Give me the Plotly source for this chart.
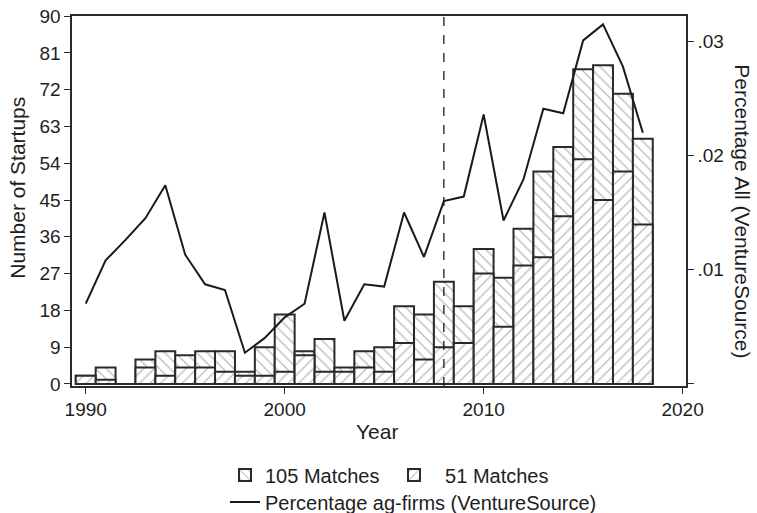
import plotly.graph_objects as go

years = list(range(1990, 2019))
matches_105 = [2, 4, 0, 6, 8, 7, 8, 8, 3, 9, 17, 8, 11, 4, 8, 9, 19, 17, 25, 19,
               33, 26, 38, 52, 58, 77, 78, 71, 60]
matches_51 = [2, 1, 0, 4, 2, 4, 4, 3, 2, 2, 3, 7, 3, 3, 4, 3, 10, 6, 9, 10,
              27, 14, 29, 31, 41, 55, 45, 52, 39]
pct_ag = [0.0070, 0.0108, 0.0126, 0.0145, 0.0174, 0.0113, 0.0087, 0.0082, 0.0027, 0.0040,
          0.0058, 0.0070, 0.0150, 0.0055, 0.0087, 0.0085, 0.0150, 0.0111, 0.0160, 0.0164,
          0.0236, 0.0143, 0.0179, 0.0241, 0.0237, 0.0301, 0.0315, 0.0278, 0.0220]
left_ticks = list(range(0, 91, 9))
right_tickvals = [0.0, 0.01, 0.02, 0.03]
right_ticktext = ["", ".01", ".02", ".03"]
x_ticks = [1990, 2000, 2010, 2020]
cutoff_year = 2008

FONT = "Liberation Sans, Arial, sans-serif"
TXT = "#1e1e1e"
EDGE = "#2a2a2a"
HATCH = "#7a7a7a"

fig = go.Figure()
fig.add_trace(go.Bar(
    x=years, y=matches_105, name="105 Matches", width=1,
    marker=dict(color="white", line=dict(color=EDGE, width=2),
                pattern=dict(shape="\\", fgcolor=HATCH, bgcolor="white", size=7.5, solidity=0.18)),
    legend="legend",
))
fig.add_trace(go.Bar(
    x=years, y=matches_51, name="\u00a0\u00a051 Matches", width=1,
    marker=dict(color="white", line=dict(color=EDGE, width=2),
                pattern=dict(shape="/", fgcolor=HATCH, bgcolor="white", size=7.5, solidity=0.18)),
    legend="legend",
))
fig.add_trace(go.Scatter(
    x=years, y=pct_ag, yaxis="y2", mode="lines", name="Percentage ag-firms (VentureSource)",
    line=dict(color="#1a1a1a", width=2), legend="legend2",
))

fig.add_shape(type="line", xref="x", yref="paper", x0=cutoff_year, x1=cutoff_year, y0=0, y1=1,
              line=dict(color="#1a1a1a", width=1.3, dash="dash"))

fig.update_layout(
    width=757, height=513,
    margin=dict(l=72, r=71, t=16, b=127, autoexpand=False),
    paper_bgcolor="white", plot_bgcolor="white",
    barmode="overlay", bargap=0,
    font=dict(family=FONT, size=19, color=TXT),
    xaxis=dict(range=[1989.31, 2020.17], tickvals=x_ticks, ticks="outside", ticklen=6,
               tickcolor=EDGE, showline=True, linecolor=EDGE, linewidth=1.6, mirror=True,
               showgrid=False, zeroline=False, automargin=False, tickfont=dict(size=19, color=TXT)),
    yaxis=dict(range=[-0.5, 90.02], tickvals=left_ticks, ticks="outside", ticklen=6,
               tickcolor=EDGE, showline=True, linecolor=EDGE, linewidth=1.6, automargin=False,
               showgrid=False, zeroline=False, tickfont=dict(size=19, color=TXT)),
    yaxis2=dict(overlaying="y", side="right", range=[-0.00022, 0.03224],
                tickvals=right_tickvals, ticktext=right_ticktext, ticks="outside", ticklen=6,
                tickcolor=EDGE, showline=True, linecolor=EDGE, linewidth=1.6, automargin=False,
                showgrid=False, zeroline=False, tickfont=dict(size=19, color=TXT)),
    legend=dict(orientation="h", xref="container", yref="container", x=0.2972, xanchor="left",
                y=0.0741, yanchor="middle",
                font=dict(size=20, color=TXT), entrywidth=124, bgcolor="rgba(0,0,0,0)",
                traceorder="normal"),
    legend2=dict(orientation="h", xref="container", yref="container", x=0.2972, xanchor="left",
                 y=0.0214, yanchor="middle",
                 font=dict(size=20, color=TXT), bgcolor="rgba(0,0,0,0)"),
    annotations=[
        dict(text="Number of Startups", xref="paper", yref="paper", x=-0.090, y=0.535,
             showarrow=False, textangle=-90, font=dict(size=21, color=TXT),
             xanchor="center", yanchor="middle"),
        dict(text="Percentage All (VentureSource)", xref="paper", yref="paper", x=1.0907, y=0.473,
             showarrow=False, textangle=90, font=dict(size=21, color=TXT),
             xanchor="center", yanchor="middle"),
        dict(text="Year", xref="paper", yref="paper", x=0.4967, y=-0.124,
             showarrow=False, font=dict(size=21, color=TXT), xanchor="center", yanchor="middle"),
    ],
)

fig.write_html("out.html", config={"displayModeBar": False, "staticPlot": True},
               post_script="document.body.style.margin='0px';")
